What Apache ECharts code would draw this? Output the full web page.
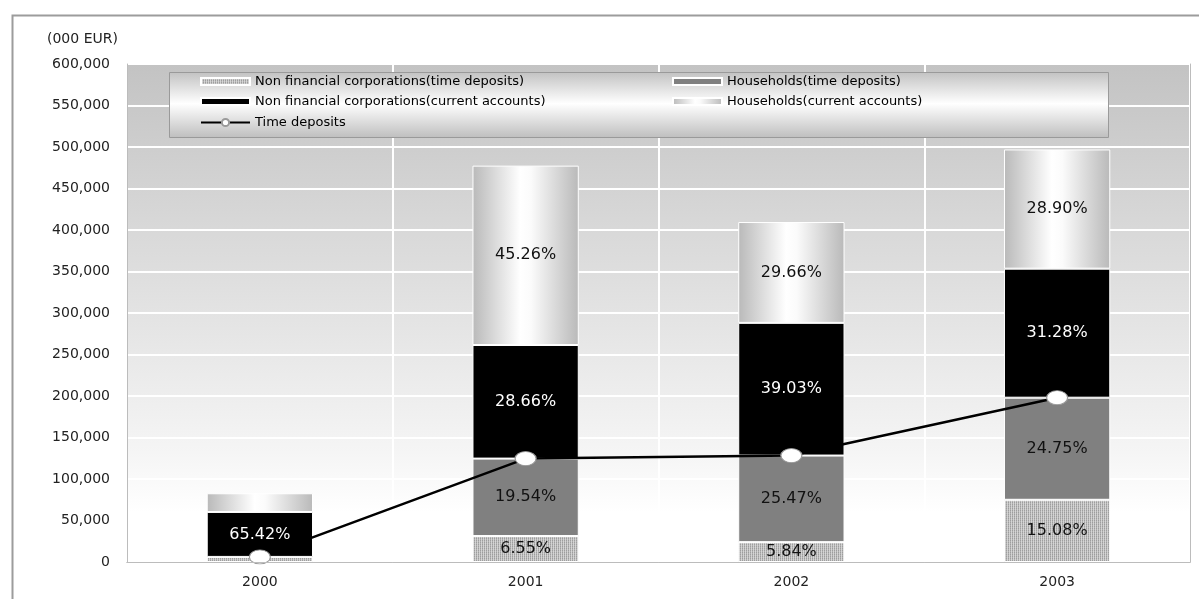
<!DOCTYPE html>
<html>
<head>
<meta charset="utf-8">
<script src="https://cdn.jsdelivr.net/npm/echarts@6/dist/echarts.min.js"></script>
<style>
  html, body { margin: 0; padding: 0; background: #ffffff; }
  #chart { width: 1199px; height: 599px; }
</style>
</head>
<body>
<div id="chart"></div>
<script>
// Deposits by holder, thousand EUR, with each segment's share of the year's total (%)
const years = ['2000', '2001', '2002', '2003'];
const totals = [82800, 477500, 409600, 497000];
const nfcTimeShare = [7.4, 6.55, 5.84, 15.08];
const hhTimeShare = [0, 19.54, 25.47, 24.75];
const nfcCurrentShare = [65.42, 28.66, 39.03, 31.28];
const hhCurrentShare = [27.18, 45.26, 29.66, 28.90];

const NAME_NFC_TIME = 'Non financial corporations(time deposits)';
const NAME_HH_TIME = 'Households(time deposits)';
const NAME_NFC_CUR = 'Non financial corporations(current accounts)';
const NAME_HH_CUR = 'Households(current accounts)';
const NAME_TIME = 'Time deposits';

// segments smaller than this carry no percentage label
const minLabelled = 23000;

const FONT = 'DejaVu Sans';

// fine dotted-stripe fill for corporate time deposits
function stripePattern() {
  const c = document.createElement('canvas');
  c.width = 2; c.height = 2;
  const g = c.getContext('2d');
  g.fillStyle = '#9e9e9e'; g.fillRect(0, 0, 1, 1);
  g.fillStyle = '#cfcfcf'; g.fillRect(1, 0, 1, 1);
  g.fillStyle = '#b2b2b2'; g.fillRect(0, 1, 1, 1);
  g.fillStyle = '#d6d6d6'; g.fillRect(1, 1, 1, 1);
  return c;
}

const silverFill = new echarts.graphic.LinearGradient(0, 0, 1, 0, [
  { offset: 0, color: '#b9b9b9' },
  { offset: 0.45, color: '#ffffff' },
  { offset: 0.55, color: '#fbfbfb' },
  { offset: 1, color: '#b9b9b9' }
]);

function segmentValues(shares) {
  return shares.map((s, i) => totals[i] * s / 100);
}

function barSeries(name, shares, fill, labelColor) {
  return {
    name: name,
    type: 'bar',
    stack: 'deposits',
    barWidth: '40%',
    data: segmentValues(shares).map((v, i) => ({
      value: v,
      share: shares[i],
      label: { show: v >= minLabelled }
    })),
    itemStyle: { color: fill, borderColor: '#ffffff', borderWidth: 1 },
    label: {
      position: 'inside',
      color: labelColor,
      fontFamily: FONT,
      fontSize: 16,
      formatter: p => p.data.share.toFixed(2) + '%'
    },
    emphasis: { disabled: true },
    animation: false
  };
}

const timeDeposits = years.map((_, i) => totals[i] * (nfcTimeShare[i] + hhTimeShare[i]) / 100);

const legendSlots = [
  { name: NAME_NFC_TIME, left: 200, top: 75, icon: 'rect', h: 7 },
  { name: NAME_HH_TIME, left: 672, top: 75, icon: 'rect', h: 7 },
  { name: NAME_NFC_CUR, left: 200, top: 95, icon: 'rect', h: 7 },
  { name: NAME_HH_CUR, left: 672, top: 95, icon: 'rect', h: 7 },
  { name: NAME_TIME, left: 200, top: 116, icon: null, h: 9 }
];

const gridLine = { show: true, lineStyle: { color: '#ffffff', width: 2 } };
const frameLine = { show: true, lineStyle: { color: '#bcbcbc', width: 1 } };

const option = {
  animation: false,
  textStyle: { fontFamily: FONT },
  grid: {
    left: 127, right: 9, top: 64, bottom: 37,
    show: true,
    borderWidth: 0,
    backgroundColor: new echarts.graphic.LinearGradient(0, 0, 0, 1, [
      { offset: 0, color: '#c3c3c3' },
      { offset: 0.78, color: '#f5f5f5' },
      { offset: 0.9, color: '#ffffff' },
      { offset: 1, color: '#ffffff' }
    ])
  },
  legend: legendSlots.map(s => {
    const lg = {
      data: [s.name],
      left: s.left,
      top: s.top,
      padding: 0,
      itemWidth: 49,
      itemHeight: s.h,
      selectedMode: false,
      textStyle: { fontFamily: FONT, fontSize: 13, color: '#000000' }
    };
    if (s.icon) lg.icon = s.icon;
    return lg;
  }),
  xAxis: [
    {
      type: 'category',
      data: years,
      axisLine: frameLine,
      axisTick: { show: false },
      axisLabel: { fontFamily: FONT, fontSize: 14, color: '#222222', margin: 13 },
      splitLine: gridLine
    },
    {
      type: 'category',
      data: years,
      position: 'top',
      z: 5,
      axisLine: frameLine,
      axisTick: { show: false },
      axisLabel: { show: false },
      splitLine: { show: false }
    }
  ],
  yAxis: [
    {
      type: 'value',
      min: 0, max: 600000, interval: 50000,
      axisLine: frameLine,
      axisTick: { show: false },
      axisLabel: { fontFamily: FONT, fontSize: 14, color: '#222222', margin: 17 },
      splitLine: gridLine
    },
    {
      type: 'value',
      position: 'right',
      min: 0, max: 600000, interval: 50000,
      z: 5,
      axisLine: frameLine,
      axisTick: { show: false },
      axisLabel: { show: false },
      splitLine: { show: false }
    }
  ],
  graphic: [
    {
      type: 'rect',
      left: 10, top: 13, z: 0,
      shape: { width: 1200, height: 600 },
      style: { fill: 'none', stroke: '#9c9c9c', lineWidth: 2 },
      silent: true
    },
    {
      type: 'rect',
      left: 169, top: 72, z: 3,
      shape: { width: 939, height: 65 },
      style: {
        fill: new echarts.graphic.LinearGradient(0, 0, 0, 1, [
          { offset: 0, color: '#c2c2c2' },
          { offset: 0.48, color: '#ffffff' },
          { offset: 1, color: '#bebebe' }
        ]),
        stroke: '#9a9a9a',
        lineWidth: 1
      },
      silent: true
    },
    {
      type: 'text',
      left: 47, top: 32, z: 3,
      style: { text: '(000 EUR)', font: '14px "DejaVu Sans"', fill: '#222222' },
      silent: true
    }
  ],
  series: [
    barSeries(NAME_NFC_TIME, nfcTimeShare, { image: stripePattern(), repeat: 'repeat' }, '#111111'),
    barSeries(NAME_HH_TIME, hhTimeShare, '#808080', '#111111'),
    barSeries(NAME_NFC_CUR, nfcCurrentShare, '#000000', '#ffffff'),
    barSeries(NAME_HH_CUR, hhCurrentShare, silverFill, '#111111'),
    {
      name: NAME_TIME,
      type: 'line',
      data: timeDeposits,
      z: 4,
      symbol: 'circle',
      symbolSize: [21, 14],
      lineStyle: { color: '#000000', width: 2.5 },
      itemStyle: { color: '#ffffff', borderColor: '#9a9a9a', borderWidth: 1 },
      emphasis: { disabled: true },
      animation: false
    }
  ]
};

const chart = echarts.init(document.getElementById('chart'), null, { renderer: 'canvas' });
chart.setOption(option);
</script>
</body>
</html>
